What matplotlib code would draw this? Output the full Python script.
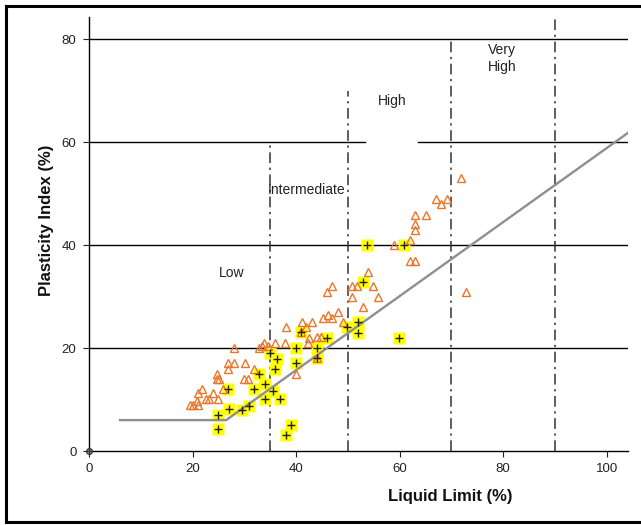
import numpy as np
import matplotlib.pyplot as plt
from matplotlib.lines import Line2D

plt.rcParams['font.family'] = ['Liberation Sans', 'DejaVu Sans']

# yellow squares (with +)
sq_ll = [25.0, 25.0, 27.0, 26.9, 29.6, 30.9, 31.9, 32.9, 34.0, 34.0,
         35.0, 36.0, 36.3, 35.5, 36.9, 38.0, 39.0, 40.0, 40.0, 41.0,
         44.0, 44.0, 46.0, 49.8, 52.0, 52.0, 52.9, 53.7, 59.9, 60.9]
sq_pi = [4.3, 7.0, 8.2, 12.0, 8.0, 8.8, 12.0, 15.0, 13.1, 10.1,
         19.0, 15.9, 17.8, 11.6, 10.1, 3.1, 5.0, 20.0, 17.0, 23.1,
         20.0, 18.0, 22.0, 24.0, 25.0, 23.0, 32.9, 40.0, 22.0, 40.0]

# open orange triangles
tri_ll = [19.6, 20.1, 21.0, 20.9, 21.0, 21.8, 22.6, 23.2, 24.0, 24.9,
          24.7, 25.2, 24.7, 25.9, 26.9, 26.9, 28.0, 28.0, 29.9, 30.7,
          30.1, 31.8, 32.8, 33.4, 33.8, 34.6, 36.0, 37.9, 38.1, 40.0,
          41.2, 41.9, 42.3, 42.5, 43.1, 44.0, 44.9, 44.0, 41.0, 45.2,
          46.2, 47.0, 48.1, 49.1, 46.0, 46.9, 50.8, 51.8, 50.8, 52.9,
          53.9, 54.9, 55.8, 58.9, 62.0, 62.0, 63.0, 63.0, 63.0, 63.0,
          65.1, 67.0, 68.0, 69.1, 71.9, 72.8]
tri_pi = [8.9, 8.9, 8.9, 9.7, 11.3, 12.0, 10.1, 10.1, 11.3, 10.1,
          14.0, 14.0, 15.0, 12.0, 15.9, 17.1, 17.1, 20.0, 14.0, 14.0,
          17.1, 15.9, 20.0, 20.4, 21.0, 20.4, 21.0, 21.0, 24.1, 15.0,
          25.0, 24.1, 21.0, 21.9, 25.0, 22.1, 22.1, 18.0, 23.1, 25.8,
          26.4, 25.8, 27.0, 25.0, 30.9, 32.0, 32.0, 32.0, 29.9, 28.0,
          34.8, 32.0, 29.9, 40.0, 41.0, 36.9, 36.9, 42.9, 44.0, 45.8,
          45.8, 48.9, 48.0, 48.9, 53.0, 30.9]

# A-line
aline_ll = [6, 26.5, 104.1]
aline_pi = [6, 6, 61.8]

# plasticity classes
class_ll = [35, 50, 70, 90]
class_top = [60, 70, 80, 84.3]
class_names = ["Low", "Intermediate", "High", "Very\nHigh"]
class_pos = [(27.6, 34.6), (42.1, 50.7), (58.5, 68.0), (79.8, 76.3)]

W, H = 641, 525
fig = plt.figure(figsize=(W / 100, H / 100), dpi=100)
ax = fig.add_axes([89 / W, 1 - 451 / H, (628 - 89) / W, (451 - 17) / H])
ax.set_xlim(0, 104.1)
ax.set_ylim(0, 84.3)

# horizontal lines (60 has a gap around the "High" label)
for lev in [20, 40, 80]:
    ax.plot([0, 104.1], [lev, lev], color='black', lw=1.0, zorder=1)
ax.plot([0, 53.3], [60, 60], color='black', lw=1.0, zorder=1)
ax.plot([63.6, 104.1], [60, 60], color='black', lw=1.0, zorder=1)

ax.vlines(class_ll, 0, class_top, colors='#333333', lw=1.1,
          linestyles=[(0, (7, 3, 1.5, 3))], zorder=1.5)

ax.plot(sq_ll, sq_pi, 's', ms=9, mfc='#ffff00', mec='none', zorder=2)
ax.plot(aline_ll, aline_pi, color='#8f8f8f', lw=1.7, zorder=2.5)
ax.plot(tri_ll, tri_pi, '^', ms=6, mfc='none', mec='#e8762c', mew=1.0, zorder=3)
ax.plot(sq_ll, sq_pi, '+', ms=6, color='#222222', mew=1.0, zorder=4)

ax.plot(0, 0, 'o', ms=4, mfc='none', mec='#333333', mew=1.0, clip_on=False, zorder=5)
ax.plot(0, 0, '+', ms=5, color='#333333', mew=1.0, clip_on=False, zorder=5)

for name, (x, y) in zip(class_names, class_pos):
    ax.text(x, y, name, fontsize=10, ha='center', va='center', color='#222222',
            linespacing=1.3)

ax.set_xticks(range(0, 101, 20))
ax.set_yticks(range(0, 81, 20))
ax.tick_params(direction='out', length=4, width=0.8, labelsize=9.5, pad=5,
               colors='#222222')
for s in ['top', 'right']:
    ax.spines[s].set_visible(False)
for s in ['left', 'bottom']:
    ax.spines[s].set_linewidth(1.0)

fig.text(450 / W, 1 - 497 / H, "Liquid Limit (%)", fontsize=12, fontweight='bold',
         ha='center', va='center', color='#111111')
fig.text(47 / W, 1 - 220 / H, "Plasticity Index (%)", fontsize=12, fontweight='bold',
         rotation=90, ha='center', va='center', color='#111111')

# outer frame
fig.add_artist(Line2D([6 / W, 6 / W], [1 - 6 / H, 1 - 522 / H], color='black', lw=2.2))
fig.add_artist(Line2D([6 / W, 1], [1 - 6 / H, 1 - 6 / H], color='black', lw=2.2))
fig.add_artist(Line2D([6 / W, 1], [1 - 522 / H, 1 - 522 / H], color='black', lw=2.2))

fig.savefig("out.png", dpi=100)
